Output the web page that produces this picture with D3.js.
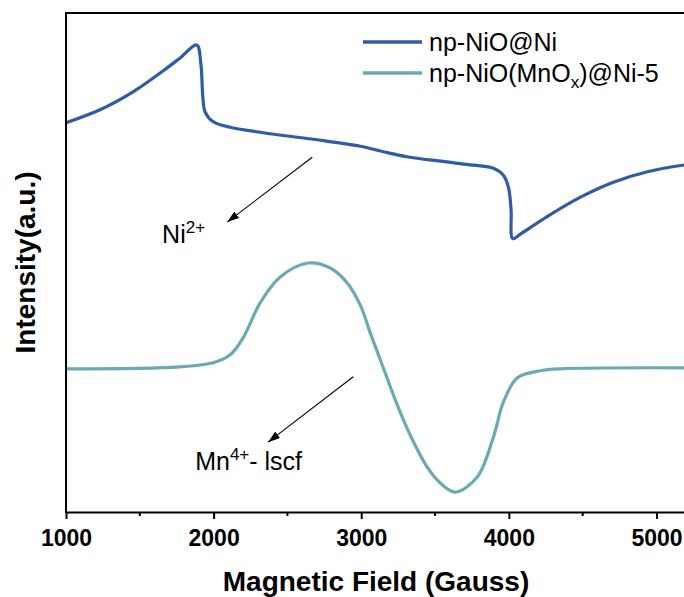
<!DOCTYPE html>
<html>
<head>
<meta charset="utf-8">
<script src="https://cdn.jsdelivr.net/npm/d3@7"></script>
<style>
  body { margin: 0; background: #fff; }
  svg { display: block; font-family: "Liberation Sans", Arial, sans-serif; }
</style>
</head>
<body>
<div id="chart"></div>
<script>
// EPR spectra (field in Gauss, intensity in a.u.)
var niField = [1000, 1230, 1454, 1685, 1773, 1886, 1913, 1927, 1942, 1997, 2112, 2336, 2675, 2993,
               3149, 3310, 3536, 3759, 3895, 3963, 3997, 4015, 4026, 4078, 4259, 4485, 4708, 4939, 5200];
var niIntensity = [78.0, 80.6, 84.2, 89.0, 91.0, 93.6, 90.0, 83.2, 80.2, 78.2, 77.1, 76.0, 74.7, 73.3,
                   72.2, 71.2, 70.3, 69.5, 68.9, 67.5, 65.1, 60.6, 54.8, 55.7, 59.2, 63.1, 66.1, 68.2, 69.6];

var mnField = [1000, 1773, 1997, 2112, 2200, 2315, 2451, 2641, 2790, 2905, 2993, 3061, 3129, 3197,
               3264, 3332, 3447, 3536, 3637, 3786, 3895, 3963, 4058, 4214, 4349, 5200];
var mnIntensity = [28.7, 29.1, 29.9, 31.5, 34.9, 41.9, 47.1, 49.9, 48.9, 45.9, 41.5, 35.9, 30.5, 25.1,
                   20.0, 15.4, 9.0, 5.8, 4.0, 7.0, 15.0, 22.0, 26.9, 28.3, 28.7, 28.9];

var seriesNames = ["np-NiO@Ni", "np-NiO(MnOx)@Ni-5"];
var seriesColors = ["#2f5ba8", "#6aaab0"];

var majorTicks = [1000, 2000, 3000, 4000, 5000];
var minorTicks = [1500, 2500, 3500, 4500];

// arrows: [fromField, fromIntensity, toField, toIntensity]
var arrows = [[2668, 71.1, 2092, 58.1], [2946, 27.1, 2369, 14.0]];

var width = 684, height = 597;
var margin = { top: 13, right: -2, bottom: 85, left: 66 };

var svg = d3.select("#chart").append("svg")
    .attr("width", width)
    .attr("height", height);

var x = d3.scaleLinear()
    .domain([1000, 5200])
    .range([margin.left, width - margin.right]);

var y = d3.scaleLinear()
    .domain([0, 100])
    .range([height - margin.bottom, margin.top]);

var defs = svg.append("defs");
defs.append("marker")
    .attr("id", "head")
    .attr("viewBox", "0 0 12 8")
    .attr("refX", 12).attr("refY", 4)
    .attr("markerWidth", 12).attr("markerHeight", 8)
    .attr("markerUnits", "userSpaceOnUse")
    .attr("orient", "auto")
  .append("path")
    .attr("d", "M0,0 L12,4 L0,8 Z")
    .attr("fill", "#000");

// frame top line
svg.append("line")
    .attr("x1", margin.left).attr("x2", width + 2)
    .attr("y1", y(100)).attr("y2", y(100))
    .attr("stroke", "#000").attr("stroke-width", 2);

// curves
var line = d3.line().curve(d3.curveCatmullRom.alpha(0.5))
    .x(d => x(d[0])).y(d => y(d[1]));

var niData = niField.map((f, i) => [f, niIntensity[i]]);
var mnData = mnField.map((f, i) => [f, mnIntensity[i]]);

[niData, mnData].forEach(function(data, i) {
  svg.append("path")
      .datum(data)
      .attr("fill", "none")
      .attr("stroke", seriesColors[i])
      .attr("stroke-width", 3.2)
      .attr("stroke-linejoin", "round")
      .attr("d", line);
});

// bottom axis
var xAxis = svg.append("g")
    .attr("transform", `translate(0,${y(0)})`)
    .call(d3.axisBottom(x).tickValues(majorTicks).tickSize(7).tickSizeOuter(0).tickFormat(d3.format("d")));
xAxis.select(".domain").attr("stroke-width", 2);
xAxis.selectAll(".tick line").attr("stroke-width", 2);
xAxis.selectAll(".tick text")
    .attr("dy", null).attr("y", 34)
    .style("font-size", "23px").style("font-weight", "bold")
    .style("font-family", "'Liberation Sans', Arial, sans-serif");

svg.append("g")
  .selectAll("line")
  .data(minorTicks)
  .join("line")
    .attr("x1", d => x(d)).attr("x2", d => x(d))
    .attr("y1", y(0)).attr("y2", y(0) + 4)
    .attr("stroke", "#000").attr("stroke-width", 2);

// left axis (no ticks)
svg.append("line")
    .attr("x1", x(1000)).attr("x2", x(1000))
    .attr("y1", y(100) - 1).attr("y2", y(0) + 1)
    .attr("stroke", "#000").attr("stroke-width", 2);

// axis titles
svg.append("text")
    .attr("x", (x(1000) + x(5200)) / 2)
    .attr("y", 591)
    .attr("text-anchor", "middle")
    .style("font-size", "28px").style("font-weight", "bold")
    .text("Magnetic Field (Gauss)");

svg.append("text")
    .attr("transform", `translate(35,${(y(0) + y(100)) / 2}) rotate(-90)`)
    .attr("text-anchor", "middle")
    .style("font-size", "28px").style("font-weight", "bold")
    .text("Intensity(a.u.)");

// legend
var legend = svg.append("g");
seriesNames.forEach(function(name, i) {
  var ly = 42 + i * 31;
  legend.append("line")
      .attr("x1", 363).attr("x2", 422)
      .attr("y1", ly).attr("y2", ly)
      .attr("stroke", seriesColors[i]).attr("stroke-width", 3.5);
  var t = legend.append("text")
      .attr("x", 429).attr("y", ly + 9)
      .style("font-size", "25px");
  if (i === 0) {
    t.text(name);
  } else {
    t.append("tspan").text("np-NiO(MnO");
    t.append("tspan").attr("dy", 6).style("font-size", "17px").text("x");
    t.append("tspan").attr("dy", -6).text(")@Ni-5");
  }
});

// annotations
svg.append("g")
  .selectAll("line")
  .data(arrows)
  .join("line")
    .attr("x1", d => x(d[0])).attr("y1", d => y(d[1]))
    .attr("x2", d => x(d[2])).attr("y2", d => y(d[3]))
    .attr("stroke", "#000").attr("stroke-width", 1.1)
    .attr("marker-end", "url(#head)");

var ni = svg.append("text")
    .attr("x", x(1651)).attr("y", y(53.9))
    .style("font-size", "25px");
ni.append("tspan").text("Ni");
ni.append("tspan").attr("dy", -10).style("font-size", "17px").text("2+");

var mn = svg.append("text")
    .attr("x", x(1875)).attr("y", y(8.4))
    .style("font-size", "25px");
mn.append("tspan").text("Mn");
mn.append("tspan").attr("dy", -10).style("font-size", "17px").text("4+");
mn.append("tspan").attr("dy", 10).text("- lscf");
</script>
</body>
</html>
